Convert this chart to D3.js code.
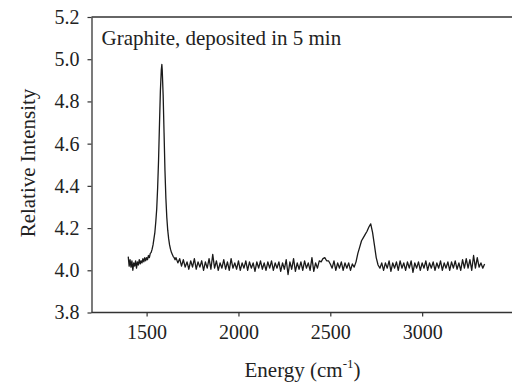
<!DOCTYPE html>
<html><head><meta charset="utf-8">
<script src="https://cdn.jsdelivr.net/npm/d3@7/dist/d3.min.js"></script>
<style>body{margin:0;background:#fff}svg{display:block}</style>
</head><body><svg id="c" width="512" height="384"></svg>
<script>
const xTicks = [1500, 2000, 2500, 3000];
const yTicks = [3.8, 4.0, 4.2, 4.4, 4.6, 4.8, 5.0, 5.2];
const title = "Graphite, deposited in 5 min";
const yLabel = "Relative Intensity";

const energy = [
1400,1405,1410,1415,1420,1425,1430,1435,1440,1445,1450,1455,1460,1465,1470,1475,1480,1485,1490,1495,
1500,1505,1510,1515,1520,1525,1530,1535,1540,1545,1550,1555,1560,1565,1570,1575,1580,1583,1585,1590,1595,1600,1605,1610,1615,1620,1625,1630,1635,1640,1645,1650,1655,
1660,1670,1680,1690,1700,1710,1720,1730,1740,1750,1760,1770,1780,1790,
1800,1810,1820,1830,1840,1850,1860,1870,1880,1890,1900,1910,1920,1930,1940,1950,1960,1970,1980,1990,
2000,2010,2020,2030,2040,2050,2060,2070,2080,2090,2100,2110,2120,2130,2140,2150,2160,2170,2180,2190,
2200,2210,2220,2230,2240,2250,2260,2270,2280,2290,2300,2310,2320,2330,2340,2350,2360,2370,2380,2390,
2400,2410,2420,2430,2440,2450,2460,2470,2480,2490,2500,2510,2520,2530,2540,2550,2560,2570,2580,2590,
2600,2610,2620,2630,2640,2650,2660,2670,2680,2690,2700,2710,2720,2730,2740,2750,2760,2770,2780,2790,
2800,2810,2820,2830,2840,2850,2860,2870,2880,2890,2900,2910,2920,2930,2940,2950,2960,2970,2980,2990,
3000,3010,3020,3030,3040,3050,3060,3070,3080,3090,3100,3110,3120,3130,3140,3150,3160,3170,3180,3190,
3200,3210,3220,3230,3240,3250,3260,3270,3280,3290,3300,3310,3320,3330,3340
];
const intensity = [
4.065,4.02,4.05,4.015,4.045,4.00,4.035,4.02,4.045,4.01,4.04,4.025,4.05,4.03,4.045,4.035,4.055,4.04,4.06,4.045,
4.06,4.05,4.07,4.06,4.08,4.085,4.10,4.12,4.15,4.18,4.23,4.29,4.39,4.52,4.69,4.85,4.95,4.975,4.95,4.83,4.65,4.47,4.34,4.25,4.19,4.15,4.12,4.10,4.085,4.075,4.065,4.06,4.05,
4.06,4.035,4.055,4.02,4.05,4.015,4.04,4.005,4.045,4.015,4.055,4.005,4.04,4.015,
4.045,4.00,4.04,4.01,4.055,4.005,4.075,4.01,4.045,4.00,4.035,4.01,4.05,4.005,4.04,4.00,4.055,4.01,4.035,4.005,
4.045,4.00,4.035,4.01,4.045,4.00,4.04,4.01,4.035,3.995,4.04,4.01,4.045,4.005,4.035,4.00,4.04,4.01,4.045,4.00,
4.035,4.01,4.04,3.995,4.035,4.005,4.05,3.98,4.04,4.005,4.055,3.995,4.035,4.005,4.04,4.00,4.045,4.01,4.035,4.00,
4.06,3.995,4.035,4.01,4.045,4.04,4.055,4.06,4.045,4.045,4.03,4.01,4.045,4.00,4.035,4.01,4.04,4.00,4.035,4.01,
4.035,4.00,4.03,4.015,4.04,4.08,4.11,4.14,4.155,4.17,4.185,4.205,4.22,4.18,4.12,4.06,4.025,4.01,4.035,4.00,
4.035,4.01,4.045,3.995,4.035,4.01,4.04,4.00,4.045,4.01,4.035,4.00,4.04,4.01,4.045,3.99,4.035,4.01,4.04,4.00,
4.035,4.01,4.045,4.00,4.035,4.01,4.04,4.00,4.035,4.01,4.045,4.00,4.035,4.01,4.04,4.00,4.04,4.01,4.045,4.005,
4.035,4.00,4.05,4.01,4.055,4.01,4.05,4.00,4.07,4.01,4.06,4.015,4.035,4.01,4.03
];

const svg = d3.select("#c");
const x = d3.scaleLinear().domain([1200, 3500]).range([91.5, 514]);
const y = d3.scaleLinear().domain([3.8, 5.2]).range([312.5, 17]);
const font = '"Liberation Serif"';
const axisColor = "#333";

svg.append("line").attr("x1", x(1200)).attr("x2", 512).attr("y1", y(5.2)).attr("y2", y(5.2))
  .attr("stroke", axisColor).attr("stroke-width", 1.3);

const xa = svg.append("g").attr("transform", `translate(0,${y(3.8)})`)
  .call(d3.axisBottom(x).tickValues(xTicks).tickSize(4).tickPadding(8).tickSizeOuter(0).tickFormat(d3.format("d")));
const ya = svg.append("g").attr("transform", `translate(${x(1200)},0)`)
  .call(d3.axisLeft(y).tickValues(yTicks).tickSize(4).tickPadding(8).tickSizeOuter(0).tickFormat(d3.format(".1f")));
[xa, ya].forEach(g => {
  g.attr("font-family", null).attr("font-size", null);
  g.select(".domain").attr("stroke", axisColor).attr("stroke-width", 1.3);
  g.selectAll(".tick line").attr("stroke", axisColor).attr("stroke-width", 1.2);
  g.selectAll("text").style("font-family", font).style("font-size", "20px").attr("fill", "#222");
});
xa.select(".domain").attr("d", `M${x(1200)},0H512`);

const data = energy.map((e, i) => [e, intensity[i]]);
svg.append("path").datum(data)
  .attr("fill", "none").attr("stroke", "#1a1a1a").attr("stroke-width", 1.3).attr("stroke-linejoin", "round")
  .attr("d", d3.line().x(d => x(d[0])).y(d => y(d[1])));

svg.append("text").attr("x", 101.5).attr("y", 45).style("font-family", font).style("font-size", "21px")
  .attr("fill", "#222").text(title);

svg.append("text").attr("transform", `translate(35,163) rotate(-90)`)
  .attr("text-anchor", "middle").style("font-family", font).style("font-size", "21px").attr("fill", "#222").text(yLabel);

const xl = svg.append("text").attr("x", 302.5).attr("y", 377).attr("text-anchor", "middle")
  .style("font-family", font).style("font-size", "21px").attr("fill", "#222");
xl.append("tspan").text("Energy (cm");
xl.append("tspan").style("font-size", "13px").attr("dy", -9).text("-1");
xl.append("tspan").attr("dy", 9).text(")");
</script></body></html>
